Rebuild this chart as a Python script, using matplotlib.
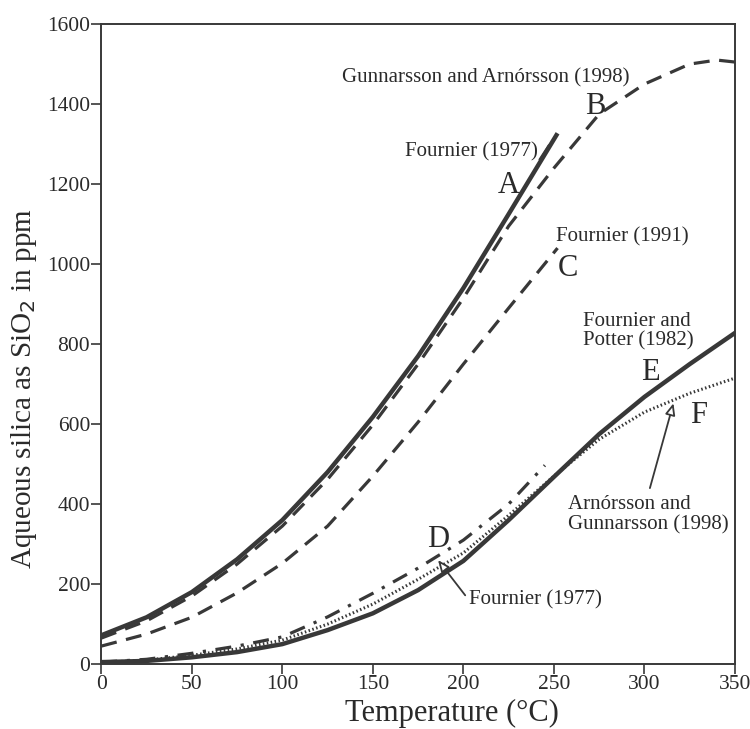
import matplotlib
matplotlib.use("Agg")
import matplotlib.pyplot as plt

plt.rcParams['font.family'] = ['Liberation Serif', 'DejaVu Serif']

INK = '#383838'

# Amorphous silica curves (upper group)
temp_a = [0, 25, 50, 75, 100, 125, 150, 175, 200, 225, 252]
fournier77_amorph = [72, 117, 180, 262, 360, 480, 618, 770, 940, 1125, 1327]

temp_b = [0, 25, 50, 75, 100, 125, 150, 175, 200, 225, 250, 275, 300, 325, 340, 350]
gunnarsson98 = [65, 108, 170, 250, 345, 462, 598, 750, 915, 1095, 1240, 1375, 1450, 1500, 1510, 1505]

temp_c = [0, 25, 50, 75, 100, 125, 150, 175, 200, 225, 252]
fournier91 = [45, 75, 117, 178, 252, 345, 470, 605, 750, 890, 1040]

# Quartz curves (lower group)
temp_d = [0, 25, 50, 75, 100, 125, 150, 175, 200, 225, 245]
fournier77_quartz = [5, 12, 27, 45, 68, 118, 177, 240, 310, 400, 497]

temp_e = [0, 25, 50, 75, 100, 125, 150, 175, 200, 225, 250, 275, 300, 325, 350]
fournier_potter82 = [5, 8, 17, 30, 50, 85, 127, 185, 258, 360, 468, 575, 668, 750, 828]

temp_f = [0, 25, 50, 75, 100, 125, 150, 175, 200, 225, 250, 275, 300, 325, 350]
arnorsson98 = [4, 10, 22, 38, 60, 100, 150, 212, 278, 372, 470, 562, 630, 677, 715]

fig = plt.figure(figsize=(7.5, 7.29), dpi=100)
ax = fig.add_axes([0.135, 0.089, 0.845, 0.878])

ax.plot(temp_a, fournier77_amorph, color=INK, lw=3.2, solid_capstyle='butt')
ax.plot(temp_b, gunnarsson98, color=INK, lw=2.3, dashes=(5, 3))
ax.plot(temp_c, fournier91, color=INK, lw=2.3, dashes=(5, 3))
ax.plot(temp_d, fournier77_quartz, color=INK, lw=2.3, dashes=(5, 3, 1, 3))
ax.plot(temp_e, fournier_potter82, color=INK, lw=3.2)
ax.plot(temp_f, arnorsson98, color=INK, lw=2.2, dashes=(0.5, 0.8))

ax.set_xlim(0, 350)
ax.set_ylim(0, 1600)
ax.set_xticks(range(0, 351, 50))
ax.set_yticks(range(0, 1601, 200))
for s in ax.spines.values():
    s.set_color(INK)
    s.set_linewidth(1.4)
ax.tick_params(direction='out', length=7, width=1.2, color=INK,
               labelsize=15.5, labelcolor='#2a2a2a', pad=1)

ax.set_xlabel('Temperature (°C)', fontsize=22, color='#2a2a2a')
ax.set_ylabel('Aqueous silica as SiO$_2$ in ppm', fontsize=21, color='#2a2a2a')
ax.xaxis.set_label_coords(0.554, -0.055)
ax.yaxis.set_label_coords(-0.098, 0.43)

txt = dict(fontsize=15, color='#2a2a2a')
big = dict(fontsize=22, color='#2a2a2a', ha='center', va='center')

ax.text(133, 1465, 'Gunnarsson and Arnórsson (1998)', va='center', **txt)
ax.text(273, 1393, 'B', **big)
ax.text(168, 1280, 'Fournier (1977)', va='center', **txt)
ax.plot([242, 247], [1262, 1297], color=INK, lw=1.2)
ax.text(225, 1197, 'A', **big)
ax.text(251, 1068, 'Fournier (1991)', va='center', **txt)
ax.text(258, 988, 'C', **big)
ax.text(266, 832, 'Fournier and\nPotter (1982)', va='center', linespacing=1.05, **txt)
ax.text(303.5, 730, 'E', **big)
ax.text(330, 622, 'F', **big)
ax.text(258, 374, 'Arnórsson and\nGunnarsson (1998)', va='center', linespacing=1.05, **txt)
ax.text(186, 312, 'D', **big)
ax.text(203, 160, 'Fournier (1977)', va='center', **txt)

arrow = dict(arrowstyle='-|>,head_length=0.7,head_width=0.3', color=INK, lw=1.3,
             fc='white', shrinkA=0, shrinkB=0)
ax.annotate('', xy=(316, 652), xytext=(303, 440), arrowprops=arrow)
ax.annotate('', xy=(186, 260), xytext=(201, 172), arrowprops=arrow)

fig.savefig('out.png', dpi=100)
